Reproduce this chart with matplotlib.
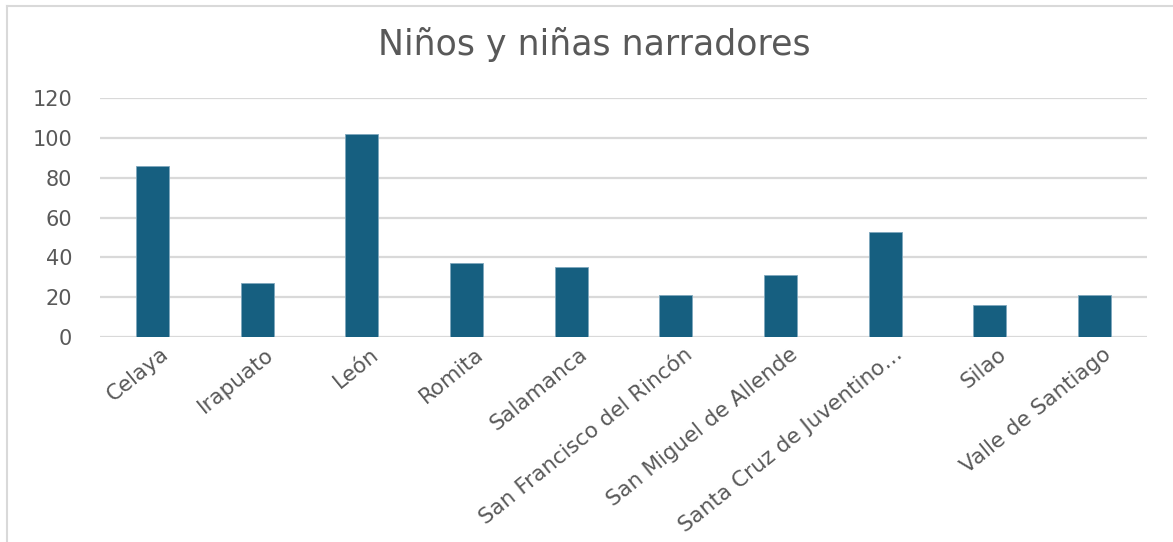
import matplotlib
matplotlib.use("Agg")
import matplotlib.pyplot as plt
from matplotlib.lines import Line2D
from matplotlib.transforms import ScaledTranslation

categories = ["Celaya", "Irapuato", "León", "Romita", "Salamanca",
              "San Francisco del Rincón", "San Miguel de Allende",
              "Santa Cruz de Juventino…", "Silao", "Valle de Santiago"]
values = [86, 27, 102, 37, 35, 21, 31, 53, 16, 21]
yticks = [0, 20, 40, 60, 80, 100, 120]
title = "Niños y niñas narradores"

plt.rcParams['font.family'] = ['DejaVu Sans']

fig = plt.figure(figsize=(11.73, 5.42), dpi=100)
ax = fig.add_axes([100/1173, 1-337/542, 1047/1173, (337-98.3)/542])

x = list(range(len(categories)))
ax.bar(x, values, width=0.315, color="#165F80", edgecolor="#7fa8bd", linewidth=0.6, zorder=3)
ax.set_xlim(-0.5, len(categories) - 0.5)
ax.set_ylim(0, 120)
ax.set_yticks(yticks)
ax.set_yticklabels([str(t) for t in yticks], fontsize=15, color="#595959")
ax.yaxis.grid(True, color="#d9d9d9", linewidth=1.6, zorder=0)
ax.set_axisbelow(True)
for s in ax.spines.values():
    s.set_visible(False)
ax.tick_params(axis='y', length=0, pad=20)
ax.tick_params(axis='x', length=0, pad=5)
ax.set_xticks(x)
ax.set_xticklabels(categories, rotation=39, ha='right', rotation_mode='anchor',
                   fontsize=15.5, color="#595959")
off = ScaledTranslation(8/100, 0, fig.dpi_scale_trans)
for lbl in ax.get_xticklabels():
    lbl.set_transform(lbl.get_transform() + off)

fig.text(594/1173, 1-45/542, title, ha='center', va='center', fontsize=25, color="#595959")

# frame lines at top and left
fig.add_artist(Line2D([7/1173, 1], [1-6/542, 1-6/542], color="#d9d9d9", linewidth=1.5))
fig.add_artist(Line2D([7/1173, 7/1173], [0, 1-6/542], color="#d9d9d9", linewidth=1.5))

fig.savefig("out.png", dpi=100, facecolor="white")
